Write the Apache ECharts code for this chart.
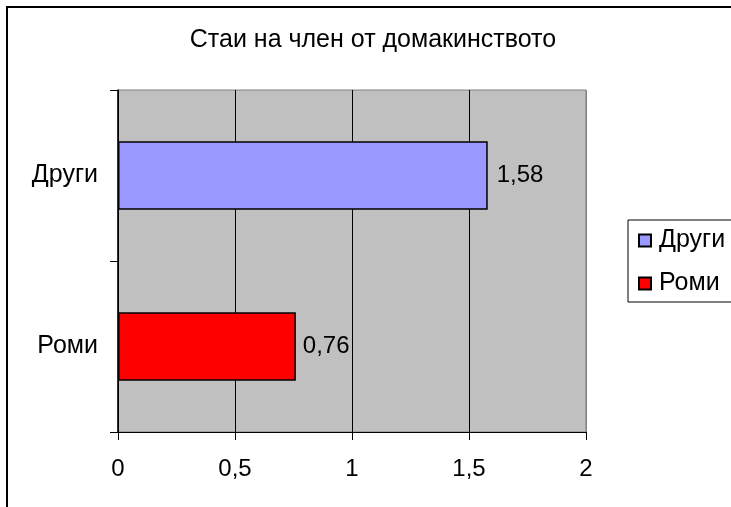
<!DOCTYPE html>
<html>
<head>
<meta charset="utf-8">
<script src="https://cdn.jsdelivr.net/npm/echarts@6/dist/echarts.min.js"></script>
<style>
  html, body { margin: 0; padding: 0; background: #fff; }
  #chart { width: 731px; height: 507px; }
</style>
</head>
<body>
<div id="chart"></div>
<script>
// Household members per group
const titleText = 'Стаи на член от домакинството';
const categories = ['Роми', 'Други'];
const seriesNames = ['Други', 'Роми'];
const valuesOthers = ['-', 1.58];
const valuesRoma = [0.76, '-'];
const xTicks = [0, 0.5, 1, 1.5, 2];

const FONT = '"Liberation Sans", Arial, sans-serif';
const fmt = v => String(v).replace('.', ',');

const chart = echarts.init(document.getElementById('chart'), null, { renderer: 'canvas' });

chart.setOption({
  animation: false,
  backgroundColor: '#ffffff',
  textStyle: { fontFamily: FONT, color: '#000' },
  graphic: [
    {
      type: 'rect',
      shape: { x: 7, y: 7, width: 780, height: 560 },
      style: { fill: 'none', stroke: '#000', lineWidth: 2 },
      silent: true
    },
    {
      type: 'text',
      x: 373,
      y: 40,
      style: {
        text: titleText,
        fontFamily: FONT,
        fontSize: 25,
        fill: '#000',
        textAlign: 'center',
        textVerticalAlign: 'middle'
      }
    }
  ],
  grid: {
    left: 118,
    right: 145,
    top: 90,
    bottom: 75,
    show: true,
    backgroundColor: '#c0c0c0',
    borderColor: '#808080',
    borderWidth: 1
  },
  legend: {
    orient: 'vertical',
    left: 628,
    top: 220,
    data: seriesNames,
    itemWidth: 12,
    itemHeight: 12,
    itemGap: 18,
    padding: [8, 30, 6, 10],
    borderColor: '#000',
    borderWidth: 1,
    backgroundColor: '#fff',
    icon: 'rect',
    textStyle: { fontFamily: FONT, fontSize: 25, color: '#000', padding: [0, 0, 0, 3] }
  },
  xAxis: {
    type: 'value',
    min: xTicks[0],
    max: xTicks[xTicks.length - 1],
    interval: 0.5,
    axisLine: { show: true, lineStyle: { color: '#000', width: 1 } },
    axisTick: { show: true, length: 8, lineStyle: { color: '#000' } },
    axisLabel: {
      margin: 25,
      fontFamily: FONT,
      fontSize: 24,
      color: '#000',
      formatter: fmt
    },
    splitLine: {
      show: true,
      lineStyle: { color: ['#000', '#000', '#000', '#000', '#808080'], width: 1 }
    }
  },
  yAxis: {
    type: 'category',
    data: categories,
    axisLine: { show: true, lineStyle: { color: '#000', width: 1.5 } },
    axisTick: { show: true, length: 8, lineStyle: { color: '#000' } },
    axisLabel: { margin: 20, fontFamily: FONT, fontSize: 25, color: '#000' },
    splitLine: { show: false }
  },
  series: [
    {
      name: seriesNames[0],
      type: 'bar',
      stack: 'g',
      barWidth: '40%',
      data: valuesOthers,
      itemStyle: { color: '#9999ff', borderColor: '#000', borderWidth: 1.5 },
      label: {
        show: true,
        position: 'right',
        distance: 9,
        fontFamily: FONT,
        fontSize: 24,
        color: '#000',
        formatter: p => fmt(p.value)
      }
    },
    {
      name: seriesNames[1],
      type: 'bar',
      stack: 'g',
      barWidth: '40%',
      data: valuesRoma,
      itemStyle: { color: '#ff0000', borderColor: '#000', borderWidth: 1.5 },
      label: {
        show: true,
        position: 'right',
        distance: 7,
        fontFamily: FONT,
        fontSize: 24,
        color: '#000',
        formatter: p => fmt(p.value)
      }
    }
  ]
});
</script>
</body>
</html>
